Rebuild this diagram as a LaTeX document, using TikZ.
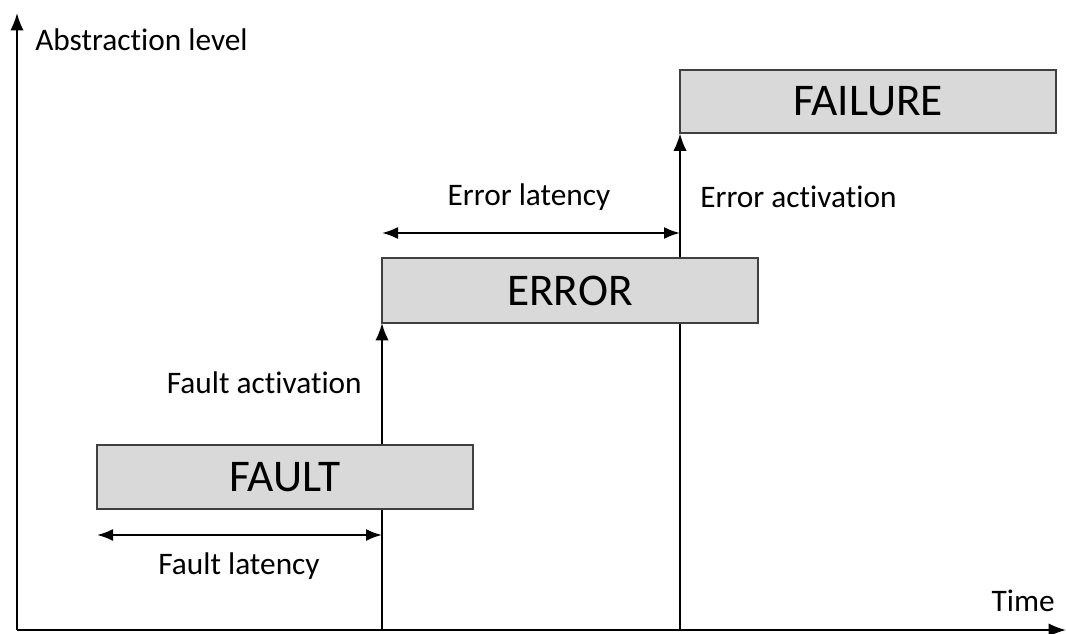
\documentclass[tikz,border=0pt]{standalone}
\usepackage{fontspec}
\setmainfont{Carlito}[RawFeature={-liga;-clig;-dlig}]
\usetikzlibrary{arrows.meta}
\definecolor{boxfill}{HTML}{D9D9D9}
\definecolor{boxline}{HTML}{404040}
\begin{document}
\begin{tikzpicture}[x=0.75pt,y=-0.75pt,
  stagebox/.style={draw=boxline,line width=1.5pt,fill=boxfill,minimum width=376*0.75pt,minimum height=64*0.75pt,inner sep=0pt,font=\fontsize{34}{40}\selectfont},
  lbl/.style={font=\fontsize{23.5}{27}\selectfont,inner sep=0pt},
  conn/.style={line width=1.5pt,-{Latex[length=13pt,width=10pt]}},
  dbl/.style={line width=1.5pt,{Latex[length=12pt,width=9pt]}-{Latex[length=12pt,width=9pt]}}]
\useasboundingbox (0,0) rectangle (1066,634);
% axes
\coordinate (origin) at (17,630);
\coordinate (ytop) at (17,13);
\coordinate (xend) at (1066,630);
\draw[conn] (origin) -- (ytop);
\draw[conn] (origin) -- (xend);
\node[lbl,anchor=west] (ylabel) at (35,40) {Abstraction level};
\node[lbl,anchor=east] (xlabel) at (1055,601) {Time};
% base coordinates
\coordinate (b1) at (382,630);
\coordinate (b2) at (680,630);
% boxes positions
\coordinate (faultc) at (285,477);
\coordinate (errorc) at (570,290.5);
\coordinate (failc) at (868,101.5);
% vertical arrows (drawn first, boxes cover them)
\path (errorc) ++(-188,32.5) coordinate (errsw);
\path (failc) ++(-188,32) coordinate (failsw);
\draw[conn] (b1) -- (errsw);
\draw[conn] (b2) -- (failsw);
% boxes
\node[stagebox] (fault) at (faultc) {FAULT};
\node[stagebox,minimum height=65*0.75pt] (error) at (errorc) {ERROR};
\node[stagebox,minimum height=63*0.75pt] (failure) at (failc) {FAILURE};
% latencies
\coordinate (fl1) at (97,535);
\coordinate (fl2) at (382,535);
\draw[dbl] (fl1) -- (fl2);
\node[lbl] (fltext) at (239,566) {Fault latency};
\coordinate (el1) at (382,233);
\coordinate (el2) at (680,233);
\draw[dbl] (el1) -- (el2);
\node[lbl] (eltext) at (529,197) {Error latency};
% activations
\node[lbl,anchor=east] (fatext) at (362,383) {Fault activation};
\node[lbl,anchor=west] (eatext) at (700,197) {Error activation};
\end{tikzpicture}
\end{document}
